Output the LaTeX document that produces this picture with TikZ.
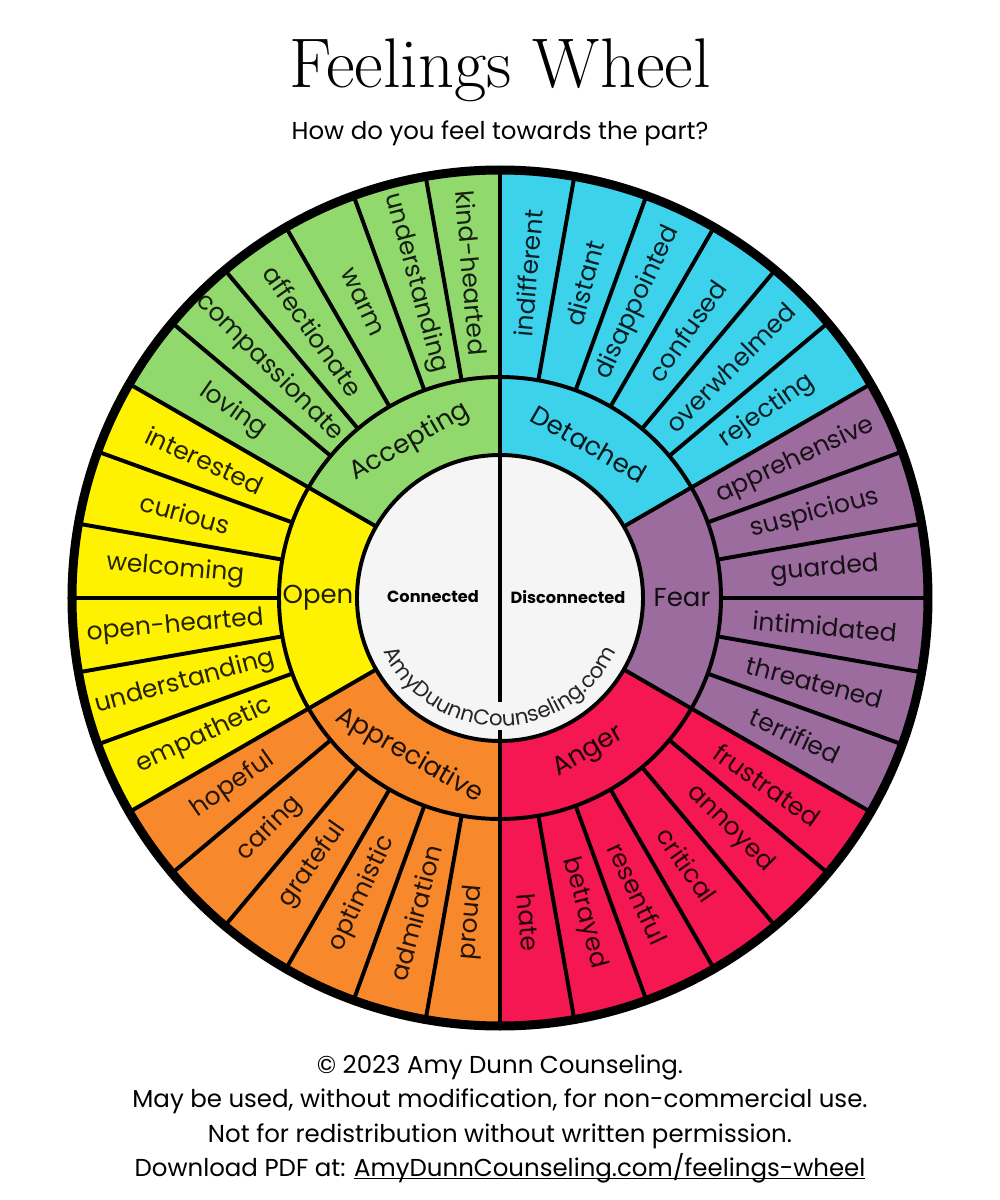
\documentclass[tikz,border=0pt]{standalone}
\usepackage{fontspec}
\newfontfamily\poppins{Poppins}
\usepackage{tikz}
\usetikzlibrary{decorations.text}

\definecolor{accgreen}{HTML}{92D96D}
\definecolor{detblue}{HTML}{3DD2EC}
\definecolor{fearpurple}{HTML}{9B6C9D}
\definecolor{angerred}{HTML}{F41752}
\definecolor{apporange}{HTML}{F7892C}
\definecolor{openyellow}{HTML}{FFF200}
\definecolor{hubgrey}{HTML}{F5F5F5}

\begin{document}
\begin{tikzpicture}[
  x=0.25mm, y=0.25mm,
  word/.style    = {font=\poppins\fontsize{17.8}{20}\selectfont, text=black, text opacity=0.85, inner sep=0pt},
  group/.style   = {font=\poppins\fontsize{18.5}{21}\selectfont, text=black, text opacity=0.88, inner sep=0pt},
  side/.style    = {font=\poppins\bfseries\fontsize{11.5}{13}\selectfont, inner sep=0pt},
  note/.style    = {font=\poppins\fontsize{17.4}{24.6}\selectfont, align=center, inner sep=0pt},
  divider/.style = {line width=2.8pt},
]
\useasboundingbox (-500,-602) rectangle (500,598);

%--- Title ---
  \node[font=\rmfamily\fontsize{50}{50}\selectfont, anchor=base] (title) at (0,510) {Feelings Wheel};
  \node[note] (question) at (0,465) {How do you feel towards the part?};

%--- Sectors ---
  \fill[accgreen]   (0,0) -- (90:428)  arc (90:150:428)  -- cycle;
  \fill[openyellow] (0,0) -- (150:428) arc (150:210:428) -- cycle;
  \fill[apporange]  (0,0) -- (210:428) arc (210:270:428) -- cycle;
  \fill[angerred]   (0,0) -- (270:428) arc (270:330:428) -- cycle;
  \fill[fearpurple] (0,0) -- (-30:428) arc (-30:30:428)  -- cycle;
  \fill[detblue]    (0,0) -- (30:428)  arc (30:90:428)   -- cycle;
  \fill[hubgrey]    (0,0) circle (143);

%--- Dividers ---
  \foreach \a in {0,10,...,350}
    \draw[divider] (\a:221) -- (\a:428);
  \foreach \a in {30,150,210,330}
    \draw[divider] (\a:143) -- (\a:221);
  \draw[divider] (0,0) circle (143);
  \draw[divider] (0,0) circle (221);
  \draw[line width=6.4pt] (0,0) circle (428);
  \draw[divider] (0,428) -- (0,-104);
  \draw[divider] (0,-132) -- (0,-428);

%--- Hub ---
  \node[side] (connected)    at (-67,1) {Connected};
  \node[side] (disconnected) at (68,1)  {Disconnected};
  \path[decorate, decoration={text along path, text align=center,
        text={|\poppins\fontsize{15.2}{16}\selectfont\color{black!85}|AmyDuunnCounseling.com}}]
        (200:128) arc (200:340:128);

%--- Middle ring ---
  \node[group, rotate=30]  (accepting)    at (120:180) {Accepting};
  \node[group]             (open)         at (180:182) {Open};
  \node[group, rotate=-30] (appreciative) at (240:182) {Appreciative};
  \node[group, rotate=-30] (detached)     at (60:178)  {Detached};
  \node[group]             (fear)         at (0:182)   {Fear};
  \node[group, rotate=30]  (anger)        at (300:178) {Anger};

%--- Outer ring: Accepting ---
  \node[word, rotate=-85] (kindhearted)   at (95:326)  {kind-hearted};
  \node[word, rotate=-75] (understandA)   at (105:326) {understanding};
  \node[word, rotate=-65] (warm)          at (115:326) {warm};
  \node[word, rotate=-55] (affectionate)  at (125:326) {affectionate};
  \node[word, rotate=-45] (compassionate) at (135:326) {compassionate};
  \node[word, rotate=-35] (loving)        at (145:326) {loving};

%--- Outer ring: Open ---
  \node[word, rotate=-25] (interested)    at (155:326) {interested};
  \node[word, rotate=-15] (curious)       at (165:326) {curious};
  \node[word, rotate=-5]  (welcoming)     at (175:326) {welcoming};
  \node[word, rotate=5]   (openhearted)   at (185:326) {open-hearted};
  \node[word, rotate=15]  (understandO)   at (195:326) {understanding};
  \node[word, rotate=25]  (empathetic)    at (205:326) {empathetic};

%--- Outer ring: Appreciative ---
  \node[word, rotate=35]  (hopeful)       at (215:326) {hopeful};
  \node[word, rotate=45]  (caring)        at (225:326) {caring};
  \node[word, rotate=55]  (grateful)      at (235:326) {grateful};
  \node[word, rotate=65]  (optimistic)    at (245:326) {optimistic};
  \node[word, rotate=75]  (admiration)    at (255:326) {admiration};
  \node[word, rotate=85]  (proud)         at (265:326) {proud};

%--- Outer ring: Anger ---
  \node[word, rotate=-85] (hate)          at (275:326) {hate};
  \node[word, rotate=-75] (betrayed)      at (285:326) {betrayed};
  \node[word, rotate=-65] (resentful)     at (295:326) {resentful};
  \node[word, rotate=-55] (critical)      at (305:326) {critical};
  \node[word, rotate=-45] (annoyed)       at (315:326) {annoyed};
  \node[word, rotate=-35] (frustrated)    at (325:326) {frustrated};

%--- Outer ring: Fear ---
  \node[word, rotate=-25] (terrified)     at (335:326) {terrified};
  \node[word, rotate=-15] (threatened)    at (345:326) {threatened};
  \node[word, rotate=-5]  (intimidated)   at (355:326) {intimidated};
  \node[word, rotate=5]   (guarded)       at (5:326)   {guarded};
  \node[word, rotate=15]  (suspicious)    at (15:326)  {suspicious};
  \node[word, rotate=25]  (apprehensive)  at (25:326)  {apprehensive};

%--- Outer ring: Detached ---
  \node[word, rotate=35]  (rejecting)     at (35:326)  {rejecting};
  \node[word, rotate=45]  (overwhelmed)   at (45:326)  {overwhelmed};
  \node[word, rotate=55]  (confused)      at (55:326)  {confused};
  \node[word, rotate=65]  (disappointed)  at (65:326)  {disappointed};
  \node[word, rotate=75]  (distant)       at (75:326)  {distant};
  \node[word, rotate=85]  (indifferent)   at (85:326)  {indifferent};

%--- Footer ---
  \node[note] (footer) at (0,-519) {\textcopyright{} 2023 Amy Dunn Counseling.\\
    May be used, without modification, for non-commercial use.\\
    Not for redistribution without written permission.\\
    Download PDF at: \underbar{AmyDunnCounseling.com/feelings-wheel}};
\end{tikzpicture}
\end{document}
